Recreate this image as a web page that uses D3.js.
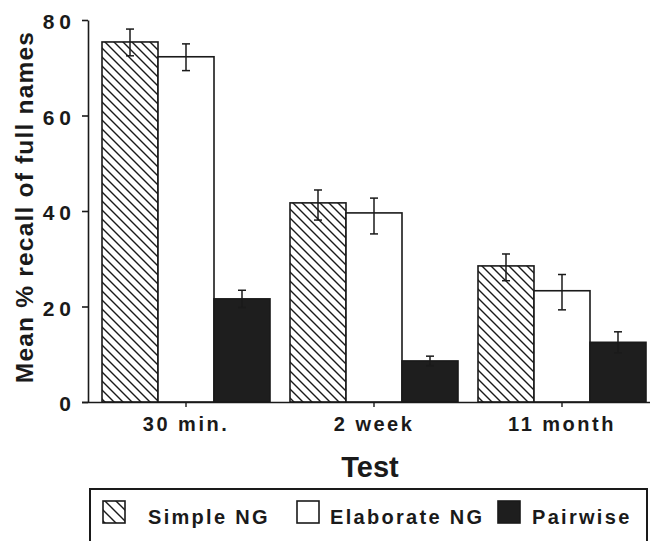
<!DOCTYPE html>
<html>
<head>
<meta charset="utf-8">
<script src="https://cdn.jsdelivr.net/npm/d3@7"></script>
<style>
  html, body { margin: 0; padding: 0; background: #fff; }
  svg { display: block; }
  text { font-family: "Liberation Sans", Arial, Helvetica, sans-serif; font-weight: bold; fill: #1a1a1a; }
</style>
</head>
<body>
<svg id="chart" width="652" height="541"></svg>
<script>
// ---- data ----
const categories = ["30 min.", "2 week", "11 month"];
const seriesNames = ["Simple NG", "Elaborate NG", "Pairwise"];
const simpleNG    = [75.4, 41.7, 28.5];
const elaborateNG = [72.3, 39.6, 23.3];
const pairwise    = [21.6, 8.6, 12.5];
const simpleErrUp    = [2.7, 2.7, 2.5];
const simpleErrLo    = [2.9, 3.6, 3.1];
const elaborateErrUp = [2.7, 3.1, 3.4];
const elaborateErrLo = [2.9, 4.4, 4.0];
const pairwiseErrUp  = [1.8, 1.0, 2.2];
const pairwiseErrLo  = [1.8, 1.0, 2.2];
const yTicks = [0, 20, 40, 60, 80];
const yLabel = "Mean % recall of full names";
const xLabel = "Test";

const seriesValues = [simpleNG, elaborateNG, pairwise];
const seriesErrUp = [simpleErrUp, elaborateErrUp, pairwiseErrUp];
const seriesErrLo = [simpleErrLo, elaborateErrLo, pairwiseErrLo];
const fills = ["url(#hatch)", "#ffffff", "#1e1e1e"];
const legendFills = ["url(#hatchLegend)", "#ffffff", "#1e1e1e"];

const svg = d3.select("#chart");
const ink = "#1a1a1a";

// patterns
const defs = svg.append("defs");
function hatch(id, s, w) {
  const p = defs.append("pattern").attr("id", id)
    .attr("patternUnits", "userSpaceOnUse").attr("width", s).attr("height", s);
  p.append("rect").attr("width", s).attr("height", s).attr("fill", "#fff");
  p.append("path")
    .attr("d", `M0,0L${s},${s}M${-s/2},${s/2}L${s/2},${s*1.5}M${s/2},${-s/2}L${s*1.5},${s/2}`)
    .attr("stroke", ink).attr("stroke-width", w);
}
hatch("hatch", 9, 1.4);
hatch("hatchLegend", 11, 1.4);

// scales
const y = d3.scaleLinear().domain([0, 80]).range([402, 20]);
const x0 = d3.scaleBand().domain(categories).range([88, 660])
  .paddingInner(0.1064).paddingOuter(0.0745);
const x1 = d3.scaleBand().domain(seriesNames).range([0, x0.bandwidth()]).padding(0);

const data = [];
categories.forEach((c, i) => {
  seriesNames.forEach((s, j) => {
    data.push({ cat: c, ser: s, j, v: seriesValues[j][i], up: seriesErrUp[j][i], lo: seriesErrLo[j][i] });
  });
});

// bars
const g = svg.append("g");
g.selectAll("rect.bar").data(data).enter().append("rect")
  .attr("class", "bar")
  .attr("x", d => x0(d.cat) + x1(d.ser))
  .attr("y", d => y(d.v))
  .attr("width", x1.bandwidth())
  .attr("height", d => y(0) - y(d.v))
  .attr("fill", d => fills[d.j])
  .attr("stroke", ink).attr("stroke-width", 1.6);

// error bars
const eb = g.selectAll("g.err").data(data).enter().append("g").attr("class", "err")
  .attr("stroke", ink).attr("stroke-width", 1.5);
const cx = d => x0(d.cat) + x1(d.ser) + x1.bandwidth() / 2;
eb.append("line").attr("x1", cx).attr("x2", cx)
  .attr("y1", d => y(d.v + d.up)).attr("y2", d => y(d.v - d.lo));
eb.append("line").attr("x1", d => cx(d) - 4).attr("x2", d => cx(d) + 4)
  .attr("y1", d => y(d.v + d.up)).attr("y2", d => y(d.v + d.up));
eb.append("line").attr("x1", d => cx(d) - 4).attr("x2", d => cx(d) + 4)
  .attr("y1", d => y(d.v - d.lo)).attr("y2", d => y(d.v - d.lo));

// y axis
const yAxis = d3.axisLeft(y).tickValues(yTicks).tickSize(6).tickSizeOuter(0).tickPadding(6);
const gy = svg.append("g").attr("transform", "translate(88,0)").call(yAxis);
gy.select(".domain").attr("stroke", ink).attr("stroke-width", 1.6);
gy.selectAll(".tick line").attr("stroke", ink).attr("stroke-width", 1.6);
gy.selectAll(".tick text")
  .style("font-family", '"Liberation Sans", Arial, sans-serif').style("font-weight", "bold")
  .style("font-size", "21px").style("letter-spacing", "5px")
  .attr("fill", ink).attr("dy", "0.42em");

// x axis
const xAxis = d3.axisBottom(x0).tickSize(5).tickSizeOuter(0).tickPadding(10);
const gx = svg.append("g").attr("transform", `translate(0,${y(0)})`).call(xAxis);
gx.select(".domain").attr("d", "M82,0.5H650").attr("stroke", ink).attr("stroke-width", 1.6);
gx.selectAll(".tick line").attr("stroke", ink).attr("stroke-width", 1.4);
gx.selectAll(".tick text")
  .style("font-family", '"Liberation Sans", Arial, sans-serif').style("font-weight", "bold")
  .style("font-size", "20px").style("letter-spacing", "2.5px")
  .attr("fill", ink).attr("dy", "0.71em");

// axis titles
svg.append("text")
  .attr("transform", "translate(33,207) rotate(-90)")
  .attr("text-anchor", "middle")
  .style("font-size", "24.5px").style("letter-spacing", "1.2px")
  .text(yLabel);
svg.append("text")
  .attr("x", 370).attr("y", 477)
  .attr("text-anchor", "middle")
  .style("font-size", "29px")
  .text(xLabel);

// legend
const legend = svg.append("g");
legend.append("rect").attr("x", 90).attr("y", 489).attr("width", 557).attr("height", 70)
  .attr("fill", "none").attr("stroke", ink).attr("stroke-width", 2);
const legendIconX = [103, 297, 498];
const legendTextX = [148, 330, 532];
const li = legend.selectAll("g.item").data(seriesNames).enter().append("g").attr("class", "item");
li.append("rect")
  .attr("x", (d, i) => legendIconX[i]).attr("y", 501)
  .attr("width", 22).attr("height", 22)
  .attr("fill", (d, i) => legendFills[i])
  .attr("stroke", ink).attr("stroke-width", 1.6);
li.append("text")
  .attr("x", (d, i) => legendTextX[i]).attr("y", 524)
  .style("font-size", "20px").style("letter-spacing", "2.3px")
  .text(d => d);
</script>
</body>
</html>
